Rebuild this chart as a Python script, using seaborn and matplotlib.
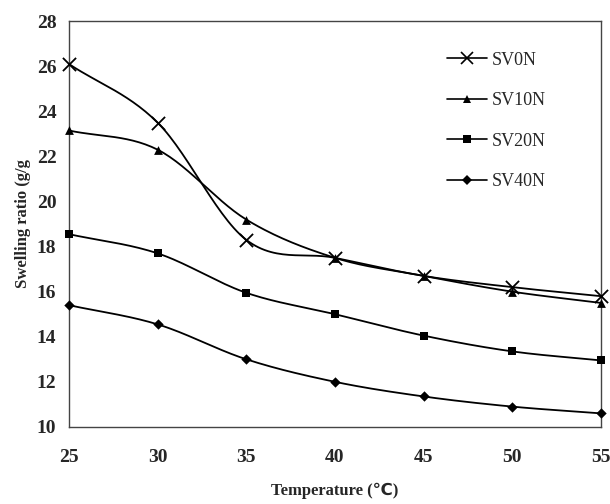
import numpy as np
import pandas as pd
import matplotlib
matplotlib.use("Agg")
import matplotlib.pyplot as plt
import seaborn as sns
from matplotlib.lines import Line2D

# data
temperature = [25, 30, 35, 40, 45, 50, 55]
sv0n = [26.1, 23.5, 18.3, 17.5, 16.7, 16.2, 15.8]
sv10n = [23.15, 22.3, 19.2, 17.5, 16.7, 16.0, 15.5]
sv20n = [18.55, 17.7, 15.95, 15.0, 14.05, 13.35, 12.95]
sv40n = [15.4, 14.55, 13.0, 12.0, 11.35, 10.9, 10.6]
series_names = ["SV0N", "SV10N", "SV20N", "SV40N"]

sns.set_style("white")
plt.rcParams['font.family'] = ['Liberation Serif', 'DejaVu Sans']


def smooth(x, y, n=30):
    # Catmull-Rom curve through the points, like Excel's smoothed line
    x = np.asarray(x, float)
    y = np.asarray(y, float)
    px = np.concatenate([[2 * x[0] - x[1]], x, [2 * x[-1] - x[-2]]])
    py = np.concatenate([[2 * y[0] - y[1]], y, [2 * y[-1] - y[-2]]])
    xs, ys = [], []
    t = np.linspace(0, 1, n)
    for i in range(1, len(px) - 2):
        for p, out in ((px, xs), (py, ys)):
            p0, p1, p2, p3 = p[i - 1], p[i], p[i + 1], p[i + 2]
            out.extend(0.5 * ((2 * p1) + (-p0 + p2) * t
                              + (2 * p0 - 5 * p1 + 4 * p2 - p3) * t ** 2
                              + (-p0 + 3 * p1 - 3 * p2 + p3) * t ** 3))
    return np.array(xs), np.array(ys)


fig = plt.figure(figsize=(6.1, 5.04), dpi=100)
ax = fig.add_axes([0.113, 0.153, 0.872, 0.805])

markers = ["x", "^", "s", "D"]
sizes = [90, 40, 30, 28]
handles = []
for name, vals, m, s in zip(series_names, [sv0n, sv10n, sv20n, sv40n], markers, sizes):
    sx, sy = smooth(temperature, vals)
    sns.lineplot(x=sx, y=sy, ax=ax, color="black", lw=1.3, sort=False, estimator=None)
    df = pd.DataFrame({"T": temperature, "v": vals})
    sns.scatterplot(data=df, x="T", y="v", ax=ax, marker=m, s=s, color="black",
                    linewidth=1.3 if m == "x" else 0, zorder=3, clip_on=False)
    handles.append(Line2D([], [], color="black", lw=1.2, marker=m,
                          markersize=9 if m == "x" else 6 if m != "D" else 5,
                          markeredgewidth=1.2 if m == "x" else 0))

ax.set_xlim(25, 55)
ax.set_ylim(10, 28)
ax.set_xticks(range(25, 56, 5))
ax.set_yticks(range(10, 29, 2))
ax.tick_params(axis="x", direction="in", length=4, width=0.8, pad=16, labelsize=14)
ax.tick_params(axis="y", direction="out", length=4, width=0.8, pad=5, labelsize=14)
for lab in ax.get_xticklabels() + ax.get_yticklabels():
    lab.set_fontweight("bold")
for sp in ax.spines.values():
    sp.set_color("#444444")
    sp.set_linewidth(1.0)

ax.set_xlabel("Temperature (℃)", fontsize=12, fontweight="bold", labelpad=12)
ax.set_ylabel("Swelling ratio (g/g", fontsize=12, fontweight="bold", labelpad=4)

ax.legend(handles, series_names, loc="upper left", bbox_to_anchor=(0.68, 0.965),
          frameon=False, fontsize=13, handlelength=2.2, labelspacing=1.3,
          handletextpad=0.3)

fig.savefig("out.png", dpi=100)
